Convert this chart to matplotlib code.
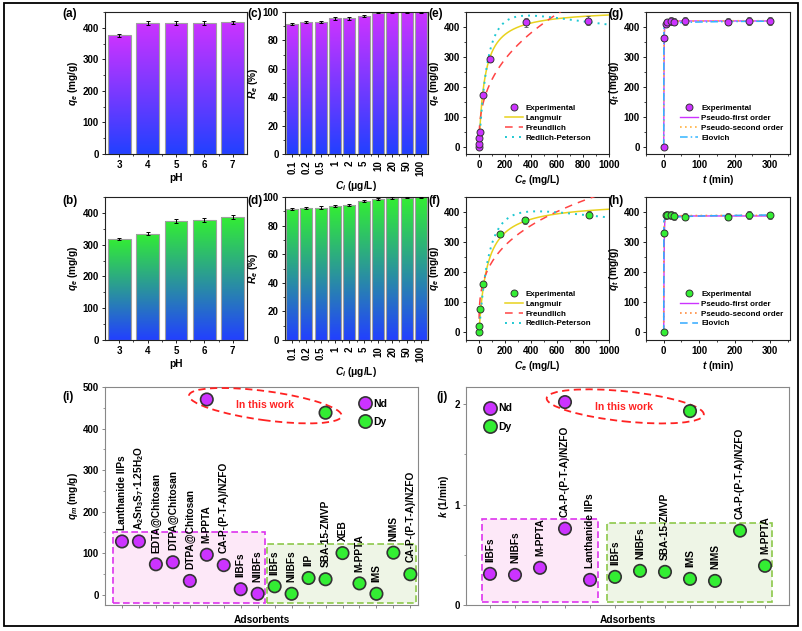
import numpy as np
import matplotlib
matplotlib.use('Agg')
import matplotlib.pyplot as plt
import matplotlib.transforms as mtransforms
from matplotlib.colors import LinearSegmentedColormap
from matplotlib.patches import Rectangle, Ellipse
from matplotlib.lines import Line2D
from matplotlib.ticker import MultipleLocator, FixedLocator, NullFormatter

plt.rcParams['font.family'] = ['Liberation Sans', 'DejaVu Sans']
plt.rcParams['font.weight'] = 'bold'
plt.rcParams['axes.labelweight'] = 'bold'
plt.rcParams['font.size'] = 7.3
plt.rcParams['axes.labelsize'] = 7.3
plt.rcParams['mathtext.fontset'] = 'custom'
plt.rcParams['mathtext.rm'] = 'Liberation Sans:bold'
plt.rcParams['mathtext.it'] = 'Liberation Sans:italic:bold'
plt.rcParams['mathtext.bf'] = 'Liberation Sans:bold'
plt.rcParams['axes.linewidth'] = 0.8
for a in ('xtick', 'ytick'):
    plt.rcParams[a + '.direction'] = 'out'
    plt.rcParams[a + '.major.size'] = 2.5
    plt.rcParams[a + '.minor.size'] = 1.5
    plt.rcParams[a + '.major.width'] = 0.7
    plt.rcParams[a + '.minor.width'] = 0.6
    plt.rcParams[a + '.major.pad'] = 2
    plt.rcParams[a + '.labelsize'] = 7
plt.rcParams['axes.labelpad'] = 2

# ---------------- data ----------------
ph = [3, 4, 5, 6, 7]
qe_ph_nd = [376, 414, 415, 416, 417]
err_ph_nd = [5, 6, 6, 6, 6]
qe_ph_dy = [318, 335, 375, 378, 388]
err_ph_dy = [3, 5, 6, 6, 6]

ci_labels = ['0.1', '0.2', '0.5', '1', '2', '5', '10', '20', '50', '100']
re_nd = [91.5, 93, 93, 95.5, 95.5, 97, 99.5, 99.7, 99.8, 99.9]
re_nd_err = [0.8, 0.8, 0.8, 0.8, 0.8, 0.8, 0.5, 0.4, 0.3, 0.3]
re_dy = [91.5, 92.3, 92.6, 93.8, 94.5, 97.4, 98.4, 99.2, 99.6, 99.8]
re_dy_err = [0.8, 0.8, 0.8, 0.8, 0.8, 0.8, 0.6, 0.5, 0.4, 0.3]

ce_nd = [0.2, 1, 3, 8, 31, 83, 364, 840]
qe_nd = [0, 9, 28, 47, 173, 293, 415, 421]
qe_nd_err = [3, 3, 3, 4, 6, 10, 15, 14]
ce_dy = [0.2, 3, 8, 30, 160, 357, 845]
qe_dy = [0, 20, 78, 160, 327, 372, 391]
qe_dy_err = [3, 3, 4, 6, 8, 12, 12]

# isotherm fit parameters
lang_nd = (460, 0.022)          # qm, KL
freu_nd = (39, 0.38)            # KF, 1/n
rp_nd = (6.9, 0.004, 1.2)       # K, a, g
lang_dy = (435, 0.016)
freu_dy = (58.9, 0.30)
rp_dy = (5.4, 0.0033, 1.2)

t_nd = [0, 1, 5, 10, 20, 30, 60, 180, 240, 300]
qt_nd = [0, 362, 411, 415, 420, 418, 420, 418, 420, 420]
t_dy = [0, 1, 5, 10, 20, 30, 60, 180, 240, 300]
qt_dy = [0, 330, 389, 391, 390, 387, 385, 384, 389, 389]
qt_err = [2, 10, 12, 12, 12, 12, 12, 12, 13, 12]

# kinetic fit parameters
pfo_nd = (420, 1.2)         # qe, k1
pso_nd = (421, 0.015)       # qe, k2
elo_nd = (2.5, 162.0)       # 1/b, ln(ab)
pfo_dy = (387, 1.0)
pso_dy = (389, 0.02)
elo_dy = (3.2, 116.25)

ads_i = ['Lanthanide IIPs', 'A$_\\mathrm{2}$Sn$_\\mathrm{3}$S$_\\mathrm{7}$·1.25H$_\\mathrm{2}$O',
         'EDTA@Chitosan', 'DTPA@Chitosan', 'DTPA@Chitosan', 'M-PPTA',
         'CA-P-(P-T-A)/NZFO', 'IIBFs', 'NIIBFs',
         'IIBFs', 'NIIBFs', 'IIP', 'SBA-15-ZMVP', 'XEB', 'M-PPTA', 'IMS', 'NIMS',
         'CA-P-(P-T-A)/NZFO']
qm_i = [128, 128, 73, 78, 33, 96, 71, 13, 2,
        20, 2, 40, 37, 100, 27, 2, 101, 49]
n_nd_i = 9
work_i_x = [6, 13]
work_i_q = [470, 438]

ads_j = ['IIBFs', 'NIIBFs', 'M-PPTA', 'CA-P-(P-T-A)/NZFO', 'Lanthanide IIPs',
         'IIBFs', 'NIIBFs', 'SBA-15-ZMVP', 'IMS', 'NIMS', 'CA-P-(P-T-A)/NZFO', 'M-PPTA']
k_j = [0.31, 0.30, 0.37, 0.76, 0.25,
       0.28, 0.34, 0.33, 0.26, 0.24, 0.74, 0.39]
n_nd_j = 5
work_j_x = [4, 9]
work_j_k = [2.02, 1.93]

# ---------------- styles ----------------
ND = '#cc33ff'
DY = '#33ee33'
BLUE = '#2240ff'
EDGE = '#333333'
W, H = 802, 631

fig = plt.figure(figsize=(W / 100, H / 100), dpi=100)


def add_ax(x0, y0, x1, y1):
    return fig.add_axes([x0 / W, 1 - y1 / H, (x1 - x0) / W, (y1 - y0) / H])


def label(x, y, s):
    fig.text(x / W, 1 - y / H, s, fontsize=8.5, fontweight='bold', ha='left', va='center')


def gradient_bars(ax, x, h, err, c_top, width):
    cmap = LinearSegmentedColormap.from_list('g', [BLUE, c_top])
    shade = np.linspace(0, 1, 256).reshape(-1, 1)
    bars = ax.bar(x, h, width=width, facecolor='none', edgecolor='#a0a0a0',
                  linewidth=0.8, zorder=2)
    for b in bars:
        x0, w, top = b.get_x(), b.get_width(), b.get_height()
        im = ax.imshow(shade, cmap=cmap, origin='lower', aspect='auto',
                       extent=[x0, x0 + w, 0, top], zorder=1)
        im.set_clip_path(b)
    ax.errorbar(x, h, yerr=err, fmt='none', ecolor='k', elinewidth=0.7,
                capsize=1.6, capthick=0.7, zorder=3)


def frame(ax, color='#222222'):
    for s in ax.spines.values():
        s.set_color(color)
    ax.tick_params(which='both', colors=color, labelcolor='k')


# (a) (b) pH
for (y0, y1), vals, err, col, lab in [((12, 154), qe_ph_nd, err_ph_nd, ND, '(a)'),
                                     ((197, 340), qe_ph_dy, err_ph_dy, DY, '(b)')]:
    ax = add_ax(105, y0, 247, y1)
    gradient_bars(ax, ph, vals, err, col, 0.8)
    ax.set_xlim(2.5, 7.5)
    ax.set_ylim(0, 450)
    ax.set_xticks(ph)
    ax.xaxis.set_minor_locator(FixedLocator([3.5, 4.5, 5.5, 6.5]))
    ax.yaxis.set_major_locator(MultipleLocator(100))
    ax.yaxis.set_minor_locator(MultipleLocator(50))
    ax.set_xlabel('pH')
    ax.set_ylabel('$q_e$ (mg/g)')
    frame(ax)
    label(62, y0 + 2 if lab == '(a)' else y0 + 4, lab)

# (c) (d) initial concentration
for (y0, y1), vals, err, col, lab in [((12, 154), re_nd, re_nd_err, ND, '(c)'),
                                     ((197, 340), re_dy, re_dy_err, DY, '(d)')]:
    ax = add_ax(285, y0, 428, y1)
    xs = np.arange(len(ci_labels))
    gradient_bars(ax, xs, vals, err, col, 0.84)
    ax.set_xlim(-0.5, len(ci_labels) - 0.5)
    ax.set_ylim(0, 100)
    ax.set_xticks(xs)
    ax.set_xticklabels(ci_labels, rotation=90)
    ax.xaxis.set_minor_locator(FixedLocator(xs[:-1] + 0.5))
    ax.yaxis.set_major_locator(MultipleLocator(20))
    ax.yaxis.set_minor_locator(MultipleLocator(10))
    ax.set_xlabel('$C_i$ (μg/L)')
    ax.set_ylabel('$R_e$ (%)')
    frame(ax)
    label(247, y0 + 2 if lab == '(c)' else y0 + 4, lab)

# (e) (f) isotherms
c_fit = np.linspace(0, 1000, 2001)
for (y0, y1), ce, qe, err, col, lp, fp, rp, lab in [
        ((12, 154), ce_nd, qe_nd, qe_nd_err, ND, lang_nd, freu_nd, rp_nd, '(e)'),
        ((197, 340), ce_dy, qe_dy, qe_dy_err, DY, lang_dy, freu_dy, rp_dy, '(f)')]:
    ax = add_ax(466, y0, 609, y1)
    ax.errorbar(ce, qe, yerr=err, fmt='none', ecolor='#555555', elinewidth=0.6,
                capsize=1.5, capthick=0.6, zorder=4)
    h_exp, = ax.plot(ce, qe, 'o', ms=5, mfc=col, mec=EDGE, mew=0.7, zorder=5,
                     label='Experimental')
    q_l = lp[0] * lp[1] * c_fit / (1 + lp[1] * c_fit)
    q_f = fp[0] * c_fit ** fp[1]
    q_r = rp[0] * c_fit / (1 + rp[1] * c_fit ** rp[2])
    h_l, = ax.plot(c_fit, q_l, '-', color='#e8d21d', lw=1.1, label='Langmuir', zorder=3)
    h_f, = ax.plot(c_fit, q_f, color='#ff4444', lw=1.1, dashes=(5, 4), label='Freundlich', zorder=3)
    h_r, = ax.plot(c_fit, q_r, color='#1fc8d2', lw=1.4, dashes=(1, 2.6),
                   label='Redlich-Peterson', zorder=3)
    ax.set_xlim(-100, 1000)
    ax.set_ylim(-25, 450)
    ax.xaxis.set_major_locator(MultipleLocator(200))
    ax.xaxis.set_minor_locator(MultipleLocator(100))
    ax.yaxis.set_major_locator(MultipleLocator(100))
    ax.yaxis.set_minor_locator(MultipleLocator(50))
    ax.set_xlabel('$C_e$ (mg/L)')
    ax.set_ylabel('$q_e$ (mg/g)')
    ax.legend(handles=[h_exp, h_l, h_f, h_r], loc='lower left', frameon=False,
              fontsize=5.8, handlelength=2.2, labelspacing=0.28, handletextpad=0.4,
              borderaxespad=0, bbox_to_anchor=(0.25, 0.065))
    frame(ax)
    label(428, y0 + 2 if lab == '(e)' else y0 + 4, lab)

# (g) (h) kinetics
t_fit = np.concatenate([np.linspace(0, 2, 401), np.linspace(2, 300, 300)])
for (y0, y1), t, qt, col, pf, ps, el, eloc, edash, pcol, lab in [
        ((12, 154), t_nd, qt_nd, ND, pfo_nd, pso_nd, elo_nd, '#33b5ff', (5, 2, 1, 2), '#ffb040', '(g)'),
        ((197, 340), t_dy, qt_dy, DY, pfo_dy, pso_dy, elo_dy, '#33aaff', (5, 3), '#ff8c40', '(h)')]:
    ax = add_ax(646, y0, 790, y1)
    ax.errorbar(t, qt, yerr=qt_err, fmt='none', ecolor='#555555', elinewidth=0.6,
                capsize=1.5, capthick=0.6, zorder=4)
    h_exp, = ax.plot(t, qt, 'o', ms=5, mfc=col, mec=EDGE, mew=0.7, zorder=5,
                     label='Experimental')
    q1 = pf[0] * (1 - np.exp(-pf[1] * t_fit))
    q2 = ps[1] * ps[0] ** 2 * t_fit / (1 + ps[1] * ps[0] * t_fit)
    q3 = el[0] * np.log1p(np.exp(el[1]) * t_fit)
    h1, = ax.plot(t_fit, q1, '-', color='#cc33ff', lw=1.0, label='Pseudo-first order', zorder=3)
    h2, = ax.plot(t_fit, q2, color=pcol, lw=1.2, dashes=(1, 2), label='Pseudo-second order', zorder=3)
    h3, = ax.plot(t_fit, q3, color=eloc, lw=1.1, dashes=edash, label='Elovich', zorder=3)
    ax.set_xlim(-50, 356)
    ax.set_ylim(-25, 450)
    ax.xaxis.set_major_locator(MultipleLocator(100))
    ax.xaxis.set_minor_locator(MultipleLocator(50))
    ax.yaxis.set_major_locator(MultipleLocator(100))
    ax.yaxis.set_minor_locator(MultipleLocator(50))
    ax.set_xlabel('$t$ (min)')
    ax.set_ylabel('$q_t$ (mg/g)')
    ax.legend(handles=[h_exp, h1, h2, h3], loc='lower left', frameon=False,
              fontsize=5.8, handlelength=2.2, labelspacing=0.28, handletextpad=0.4,
              borderaxespad=0, bbox_to_anchor=(0.215, 0.065))
    frame(ax)
    label(608, y0 + 2 if lab == '(g)' else y0 + 4, lab)


def compare_panel(ax, names, vals, n_nd, wx, wy, ell, txt_xy, ell_xy):
    xs = np.arange(1, len(names) + 1)
    cols = [ND] * n_nd + [DY] * (len(names) - n_nd)
    ax.scatter(xs, vals, s=80, c=cols, edgecolors=EDGE, linewidths=1.2, zorder=4)
    ax.scatter(wx, wy, s=80, c=[ND, DY], edgecolors=EDGE, linewidths=1.2, zorder=4)
    for x, v, n in zip(xs, vals, names):
        ax.annotate(n, (x, v), xytext=(0, 8.5), textcoords='offset points',
                    rotation=90, ha='center', va='bottom', fontsize=7.3,
                    fontweight='bold', zorder=5)
    trans = fig.dpi_scale_trans + mtransforms.ScaledTranslation(ell_xy[0], ell_xy[1], ax.transData)
    ax.add_patch(Ellipse((0, 0), ell[0], ell[1], angle=ell[2], transform=trans,
                         fill=False, ec='#ff2222', lw=1.3, ls=(0, (4, 2.5)), zorder=3))
    ax.text(txt_xy[0], txt_xy[1], 'In this work', color='#ff2222', fontsize=7.5,
            fontweight='bold', ha='center', va='center')
    ax.set_xticks(xs)
    ax.xaxis.set_major_formatter(NullFormatter())
    ax.set_xlabel('Adsorbents', labelpad=3, fontsize=7.3)
    frame(ax, '#888888')
    hs = [Line2D([], [], marker='o', ls='none', ms=9.5, mfc=ND, mec=EDGE, mew=1.2, label='Nd'),
          Line2D([], [], marker='o', ls='none', ms=9.5, mfc=DY, mec=EDGE, mew=1.2, label='Dy')]
    return hs


# (i) q_m comparison
ax = add_ax(105, 387, 418, 605)
ax.add_patch(Rectangle((0.47, -19), 9.43 - 0.47, 150 + 19, fc='#fde8f8', ec='#dd33ee',
                       lw=1.2, ls=(0, (4, 2)), zorder=1))
ax.add_patch(Rectangle((9.53, -19), 18.35 - 9.53, 121 + 19, fc='#eef5e6', ec='#8cc84a',
                       lw=1.2, ls=(0, (4, 2)), zorder=1))
hs = compare_panel(ax, ads_i, qm_i, n_nd_i, work_i_x, work_i_q, (1.54, 0.29, -7.7),
                   (9.45, 457), (9.45, 455))
ax.set_xlim(0, 18.45)
ax.set_ylim(-25, 500)
ax.yaxis.set_major_locator(MultipleLocator(100))
ax.yaxis.set_minor_locator(MultipleLocator(50))
ax.set_ylabel('$q_m$ (mg/g)')
ax.legend(handles=hs, loc='upper left', bbox_to_anchor=(0.80, 0.965), frameon=False,
          fontsize=7.5, handlelength=1.0, handletextpad=0.3, labelspacing=0.75, borderaxespad=0)
label(62, 397, '(i)')

# (j) k comparison
ax = add_ax(466, 387, 789, 605)
ax.add_patch(Rectangle((0.67, 0.033), 5.31 - 0.67, 0.854 - 0.033, fc='#fde8f8', ec='#dd33ee',
                       lw=1.2, ls=(0, (4, 2)), zorder=1))
ax.add_patch(Rectangle((5.67, 0.033), 12.29 - 5.67, 0.82 - 0.033, fc='#eef5e6', ec='#8cc84a',
                       lw=1.2, ls=(0, (4, 2)), zorder=1))
hs = compare_panel(ax, ads_j, k_j, n_nd_j, work_j_x, work_j_k, (1.58, 0.30, -6.0),
                   (6.36, 1.967), (6.41, 1.977))
ax.set_xlim(0.04, 12.96)
ax.set_ylim(0, 2.17)
ax.yaxis.set_major_locator(MultipleLocator(1))
ax.yaxis.set_minor_locator(MultipleLocator(0.5))
ax.set_ylabel('$k$ (1/min)')
ax.legend(handles=hs, loc='upper left', bbox_to_anchor=(0.045, 0.945), frameon=False,
          fontsize=7.5, handlelength=1.0, handletextpad=0.3, labelspacing=0.85, borderaxespad=0)
label(436, 397, '(j)')

# outer frame
fig.add_artist(Rectangle((4 / W, 1 - 626 / H), 794 / W, 623 / H, transform=fig.transFigure,
                         fill=False, ec='k', lw=1.3))

fig.savefig('out.png', dpi=100)
